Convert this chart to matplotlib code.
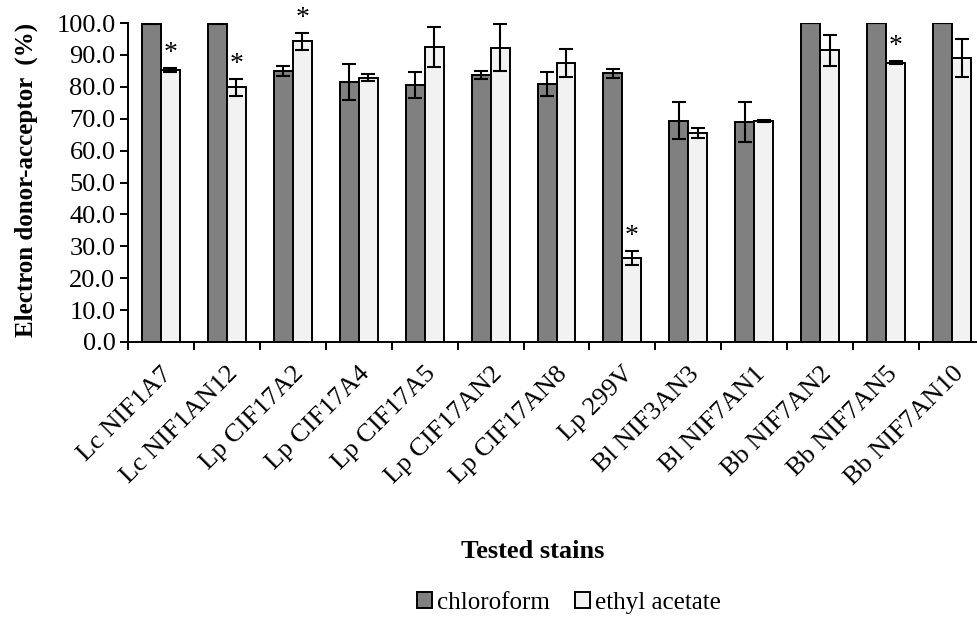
import matplotlib
matplotlib.use("Agg")
import matplotlib.pyplot as plt
import numpy as np

categories = ["Lc NIF1A7", "Lc NIF1AN12", "Lp CIF17A2", "Lp CIF17A4", "Lp CIF17A5",
              "Lp CIF17AN2", "Lp CIF17AN8", "Lp 299V", "Bl NIF3AN3", "Bl NIF7AN1",
              "Bb NIF7AN2", "Bb NIF7AN5", "Bb NIF7AN10"]
chloroform = [99.7, 99.7, 84.9, 81.4, 80.6, 83.7, 80.9, 84.2, 69.4, 68.9, 99.9, 100.0, 100.0]
chloroform_err = [0.0, 0.0, 1.5, 5.6, 4.1, 1.3, 3.8, 1.3, 5.8, 6.2, 0.0, 0.0, 0.0]
ethyl = [85.3, 79.8, 94.3, 82.9, 92.4, 92.2, 87.5, 26.4, 65.6, 69.3, 91.4, 87.6, 89.0]
ethyl_err = [0.6, 2.7, 2.7, 1.1, 6.2, 7.4, 4.5, 2.2, 1.5, 0.3, 4.8, 0.6, 6.0]
significant = [True, True, True, False, False, False, False, True, False, False, False, True, False]
yticks = np.arange(0, 101, 10)

plt.rcParams['font.family'] = ['Liberation Serif', 'DejaVu Serif']

fig = plt.figure(figsize=(9.78, 6.26), dpi=100)
ax = fig.add_axes([128/978, 284/626, 857/978, 319/626])

x = np.arange(len(categories))
w = 0.288
ekw = dict(elinewidth=1.5, capthick=1.5, ecolor='black')
ax.bar(x - w/2, chloroform, w, yerr=chloroform_err, color='#808080', edgecolor='black',
       linewidth=1.4, capsize=5, error_kw=ekw, label='chloroform')
ax.bar(x + w/2, ethyl, w, yerr=ethyl_err, color='#f2f2f2', edgecolor='black',
       linewidth=1.4, capsize=5, error_kw=ekw, label='ethyl acetate')

for i, s in enumerate(significant):
    if s:
        ax.text(x[i] + w/2, ethyl[i] + ethyl_err[i] + 0.5, '*', ha='center', va='bottom',
                fontsize=20)

ax.set_xlim(-0.5, len(categories) - 0.5)
ax.set_ylim(0, 100)
ax.set_yticks(yticks)
ax.set_yticklabels([f"{v:.1f}" for v in yticks], fontsize=19)
ax.set_xticks(x)
ax.set_xticklabels(categories, rotation=45, ha='right', rotation_mode='anchor', fontsize=19)
ax.tick_params(axis='x', length=0, pad=15)
ax.set_xticks(np.arange(-0.5, len(categories), 1), minor=True)
ax.tick_params(axis='x', which='minor', length=6, width=1.4, direction='out')
ax.tick_params(axis='y', length=6, width=1.4, direction='out', pad=3)
for sp in ['top', 'right']:
    ax.spines[sp].set_visible(False)
for sp in ['left', 'bottom']:
    ax.spines[sp].set_linewidth(1.4)

fig.text(26/978, 1 - 180/626, 'Electron donor-acceptor  (%)', rotation=90, ha='center',
         va='center', fontsize=18, fontweight='bold')
fig.text(533/978, 1 - 552/626, 'Tested stains', ha='center', va='center', fontsize=19,
         fontweight='bold')

handles, labels = ax.get_legend_handles_labels()
fig.legend(handles, labels, loc='center', bbox_to_anchor=(569/978, 1 - 603/626), ncol=2,
           frameon=False, fontsize=18, handlelength=0.6, handleheight=0.6,
           handletextpad=0.2, columnspacing=1.0)

fig.savefig('out.png', dpi=100)
